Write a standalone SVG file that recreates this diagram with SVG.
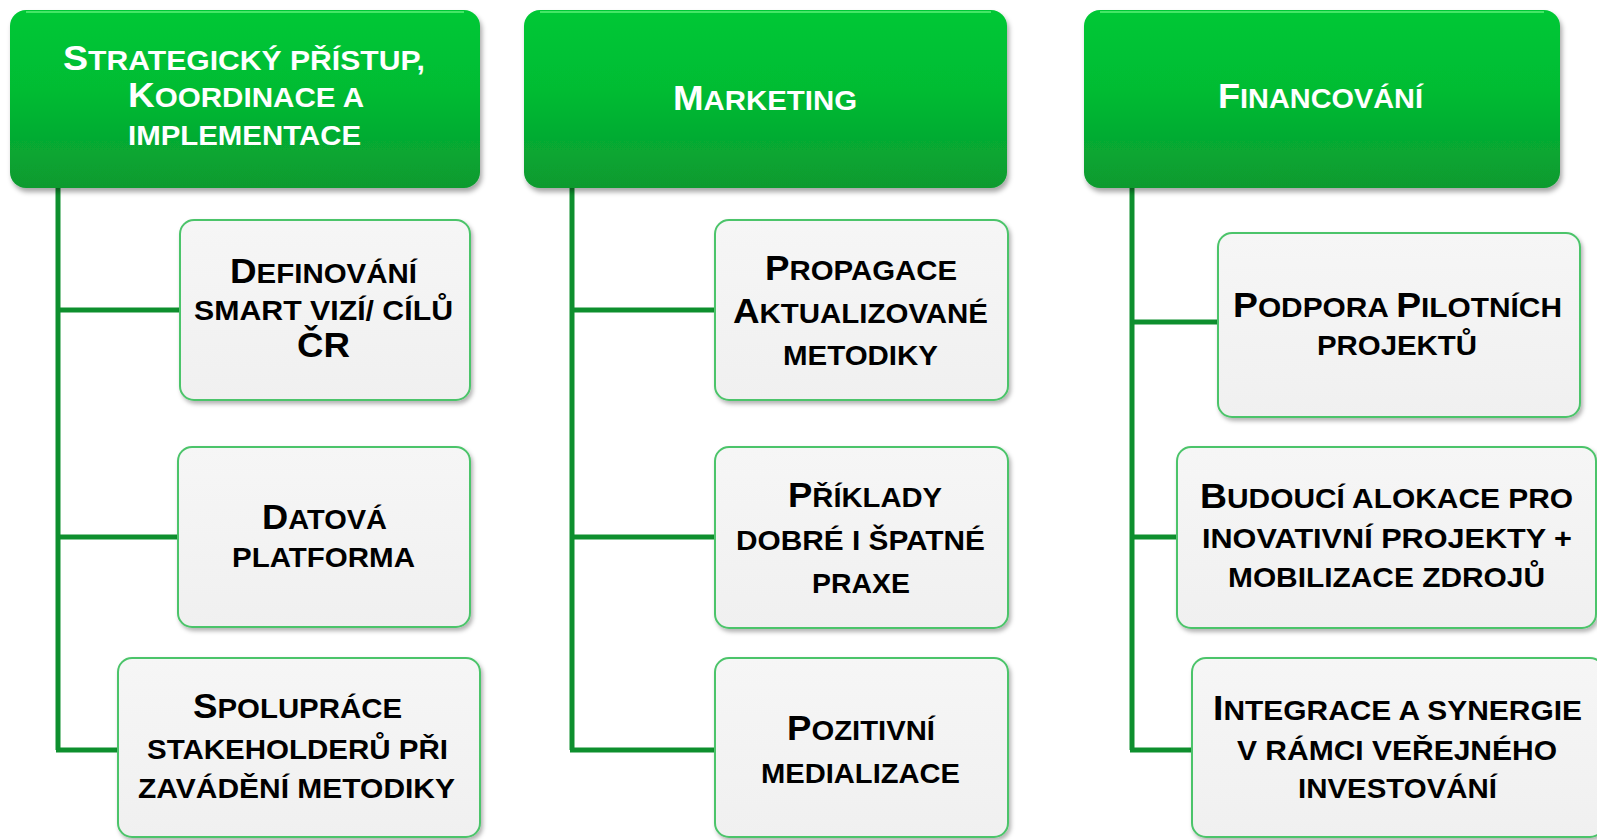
<svg xmlns="http://www.w3.org/2000/svg" width="1597" height="840" viewBox="0 0 1597 840">
<defs>
<linearGradient id="gHdr" x1="0" y1="0" x2="0" y2="1">
<stop offset="0" stop-color="#00C836"/>
<stop offset="0.45" stop-color="#02BC33"/>
<stop offset="1" stop-color="#0A9A2F"/>
</linearGradient>
<linearGradient id="gBox" x1="0" y1="0" x2="0" y2="1">
<stop offset="0" stop-color="#F6F6F6"/>
<stop offset="1" stop-color="#F0F0F0"/>
</linearGradient>
<filter id="sh" x="-10%" y="-10%" width="125%" height="130%">
<feDropShadow dx="2" dy="4" stdDeviation="2.5" flood-color="#000" flood-opacity="0.35"/>
</filter>
<filter id="sh2" x="-10%" y="-10%" width="125%" height="130%">
<feDropShadow dx="2" dy="3" stdDeviation="2" flood-color="#000" flood-opacity="0.3"/>
</filter>
</defs>
<style>
.hdr{fill:url(#gHdr);filter:url(#sh)}
.hl{fill:none;stroke:#7CFF8E;stroke-opacity:0.55;stroke-width:2}
.box{fill:url(#gBox);stroke:#4CC46A;stroke-width:2;filter:url(#sh2)}
text{font-family:"Liberation Sans",Arial,sans-serif;font-weight:bold;font-size:28px}
.w{fill:#FFFFFF}
.k{fill:#000000}
.B{font-size:35px}
.con{fill:none;stroke:#0E8F2E;stroke-width:5}
</style>
<rect width="1597" height="840" fill="#FFFFFF"/>

<g id="connectors">
<path class="con" d="M58 186 V750 M56 310 H181 M56 537 H179 M56 750 H119"/>
<path class="con" d="M572 186 V750 M570 310 H716 M570 537 H716 M570 750 H716"/>
<path class="con" d="M1132 186 V750 M1130 322 H1219 M1130 537 H1178 M1130 750 H1193"/>
</g>

<g id="hdr-strategicky">
<rect class="hdr" x="10" y="10" width="470" height="178" rx="16"/>
<path class="hl" d="M26 12 H464"/>
<text class="w" x="63" y="70" textLength="362" lengthAdjust="spacingAndGlyphs"><tspan class="B">S</tspan>TRATEGICKÝ PŘÍSTUP,</text>
<text class="w" x="128" y="107" textLength="236" lengthAdjust="spacingAndGlyphs"><tspan class="B">K</tspan>OORDINACE A</text>
<text class="w" x="128" y="145" textLength="233" lengthAdjust="spacingAndGlyphs">IMPLEMENTACE</text>
</g>

<g id="hdr-marketing">
<rect class="hdr" x="524" y="10" width="483" height="178" rx="16"/>
<path class="hl" d="M540 12 H991"/>
<text class="w" x="673" y="110" textLength="184" lengthAdjust="spacingAndGlyphs"><tspan class="B">M</tspan>ARKETING</text>
</g>

<g id="hdr-financovani">
<rect class="hdr" x="1084" y="10" width="476" height="178" rx="16"/>
<path class="hl" d="M1100 12 H1544"/>
<text class="w" x="1218" y="108" textLength="205" lengthAdjust="spacingAndGlyphs"><tspan class="B">F</tspan>INANCOVÁNÍ</text>
</g>

<g id="box-definovani">
<rect class="box" x="180" y="220" width="290" height="180" rx="14"/>
<text class="k" x="230" y="283" textLength="187" lengthAdjust="spacingAndGlyphs"><tspan class="B">D</tspan>EFINOVÁNÍ</text>
<text class="k" x="194" y="320" textLength="259" lengthAdjust="spacingAndGlyphs">SMART VIZÍ/ CÍLŮ</text>
<text class="k" x="297" y="357" textLength="53" lengthAdjust="spacingAndGlyphs"><tspan class="B">ČR</tspan></text>
</g>

<g id="box-datova">
<rect class="box" x="178" y="447" width="292" height="180" rx="14"/>
<text class="k" x="262" y="529" textLength="125" lengthAdjust="spacingAndGlyphs"><tspan class="B">D</tspan>ATOVÁ</text>
<text class="k" x="232" y="567" textLength="183" lengthAdjust="spacingAndGlyphs">PLATFORMA</text>
</g>

<g id="box-spoluprace">
<rect class="box" x="118" y="658" width="362" height="179" rx="14"/>
<text class="k" x="193" y="718" textLength="209" lengthAdjust="spacingAndGlyphs"><tspan class="B">S</tspan>POLUPRÁCE</text>
<text class="k" x="147" y="759" textLength="301" lengthAdjust="spacingAndGlyphs">STAKEHOLDERŮ PŘI</text>
<text class="k" x="138" y="798" textLength="317" lengthAdjust="spacingAndGlyphs">ZAVÁDĚNÍ METODIKY</text>
</g>

<g id="box-propagace">
<rect class="box" x="715" y="220" width="293" height="180" rx="14"/>
<text class="k" x="765" y="280" textLength="192" lengthAdjust="spacingAndGlyphs"><tspan class="B">P</tspan>ROPAGACE</text>
<text class="k" x="733" y="323" textLength="255" lengthAdjust="spacingAndGlyphs"><tspan class="B">A</tspan>KTUALIZOVANÉ</text>
<text class="k" x="783" y="365" textLength="155" lengthAdjust="spacingAndGlyphs">METODIKY</text>
</g>

<g id="box-priklady">
<rect class="box" x="715" y="447" width="293" height="181" rx="14"/>
<text class="k" x="788" y="507" textLength="154" lengthAdjust="spacingAndGlyphs"><tspan class="B">P</tspan>ŘÍKLADY</text>
<text class="k" x="736" y="550" textLength="249" lengthAdjust="spacingAndGlyphs">DOBRÉ I ŠPATNÉ</text>
<text class="k" x="812" y="593" textLength="98" lengthAdjust="spacingAndGlyphs">PRAXE</text>
</g>

<g id="box-pozitivni">
<rect class="box" x="715" y="658" width="293" height="179" rx="14"/>
<text class="k" x="787" y="740" textLength="148" lengthAdjust="spacingAndGlyphs"><tspan class="B">P</tspan>OZITIVNÍ</text>
<text class="k" x="761" y="783" textLength="199" lengthAdjust="spacingAndGlyphs">MEDIALIZACE</text>
</g>

<g id="box-podpora">
<rect class="box" x="1218" y="233" width="362" height="184" rx="14"/>
<text class="k" x="1233" y="317" textLength="329" lengthAdjust="spacingAndGlyphs"><tspan class="B">P</tspan>ODPORA <tspan class="B">P</tspan>ILOTNÍCH</text>
<text class="k" x="1317" y="355" textLength="160" lengthAdjust="spacingAndGlyphs">PROJEKTŮ</text>
</g>

<g id="box-budouci">
<rect class="box" x="1177" y="447" width="419" height="181" rx="14"/>
<text class="k" x="1200" y="508" textLength="373" lengthAdjust="spacingAndGlyphs"><tspan class="B">B</tspan>UDOUCÍ ALOKACE PRO</text>
<text class="k" x="1202" y="548" textLength="370" lengthAdjust="spacingAndGlyphs">INOVATIVNÍ PROJEKTY +</text>
<text class="k" x="1228" y="587" textLength="317" lengthAdjust="spacingAndGlyphs">MOBILIZACE ZDROJŮ</text>
</g>

<g id="box-integrace">
<rect class="box" x="1192" y="658" width="412" height="179" rx="14"/>
<text class="k" x="1213" y="720" textLength="369" lengthAdjust="spacingAndGlyphs"><tspan class="B">I</tspan>NTEGRACE A SYNERGIE</text>
<text class="k" x="1237" y="760" textLength="320" lengthAdjust="spacingAndGlyphs">V RÁMCI VEŘEJNÉHO</text>
<text class="k" x="1298" y="798" textLength="199" lengthAdjust="spacingAndGlyphs">INVESTOVÁNÍ</text>
</g>
</svg>
